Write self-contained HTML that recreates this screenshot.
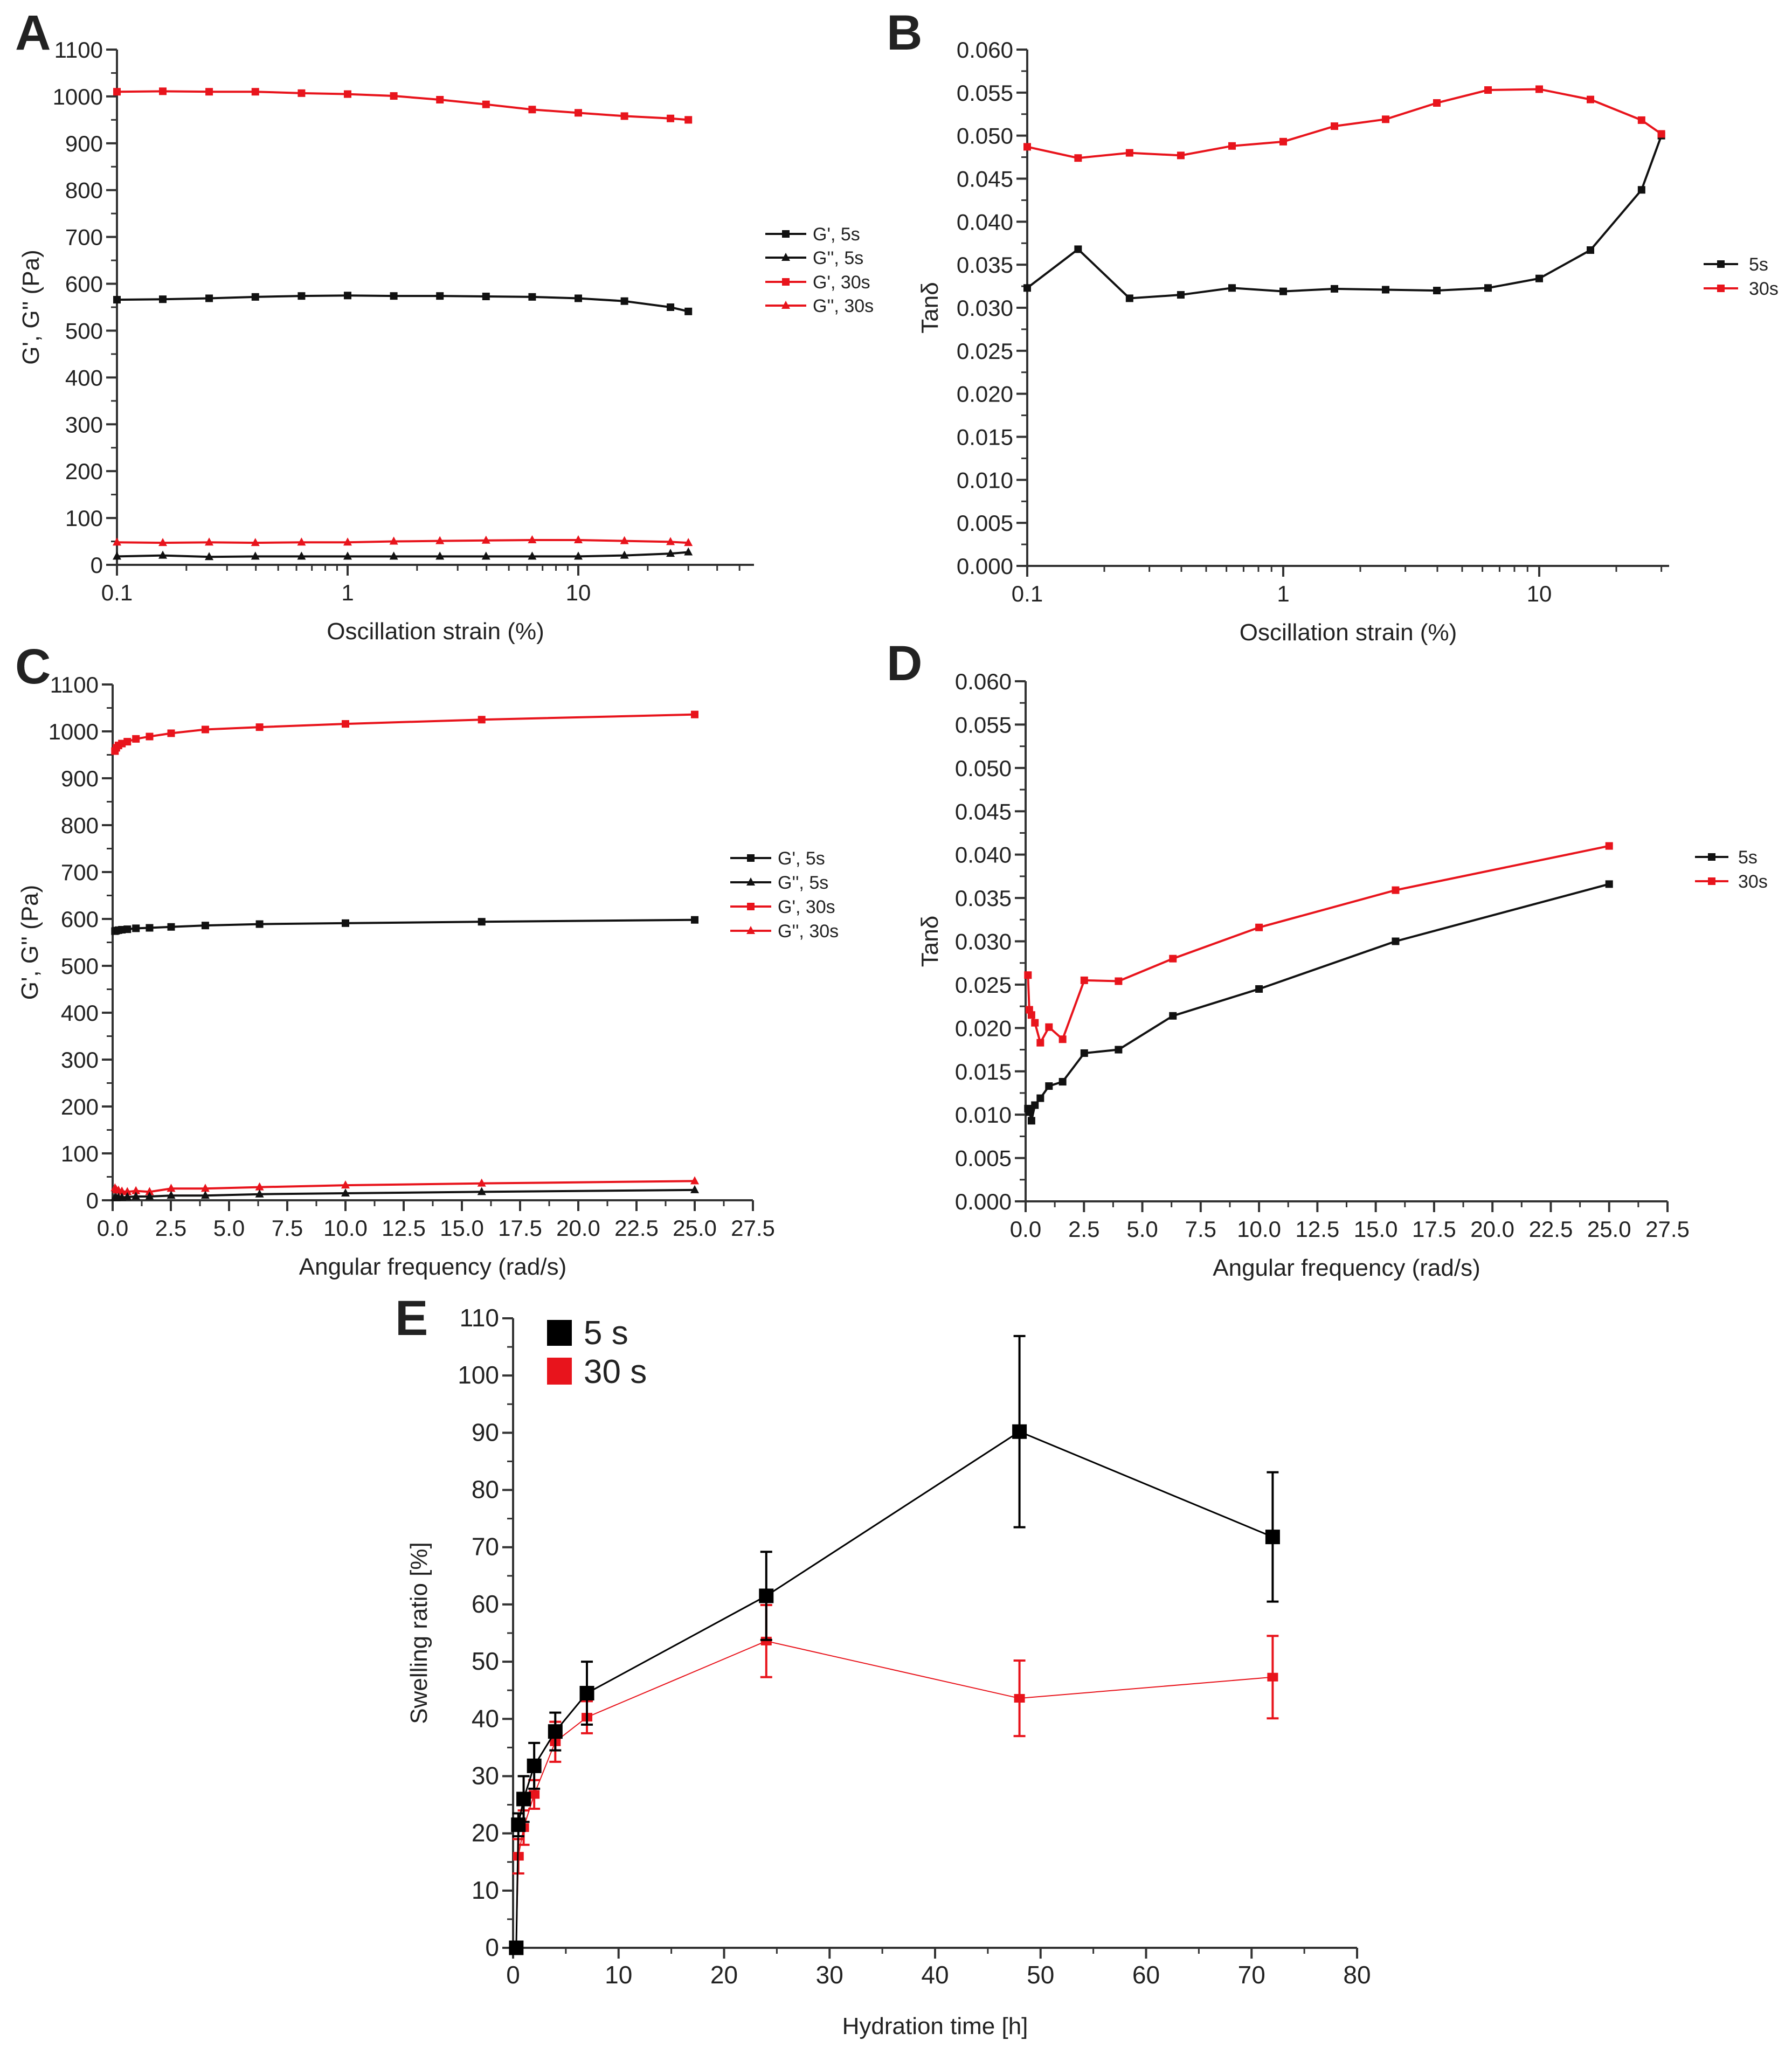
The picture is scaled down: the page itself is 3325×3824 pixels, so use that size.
<!DOCTYPE html>
<html><head><meta charset="utf-8">
<style>
html,body{margin:0;padding:0;background:#fff;}
svg{display:block;}
text{font-family:"Liberation Sans Narrow","Liberation Sans",sans-serif;fill:#222;}
</style></head>
<body>
<svg id="fig" xmlns="http://www.w3.org/2000/svg" width="3325" height="3824" viewBox="0 0 3325 3824"></svg>
<script>
// ---------- data ----------
const strainX = [0.1,0.158,0.251,0.398,0.631,1,1.585,2.512,3.981,6.31,10,15.85,25.1,30];
const aG1_5s  = [566,567,569,572,574,575,574,574,573,572,569,563,550,541];
const aG2_5s  = [18,20,17,18,18,18,18,18,18,18,18,20,24,27];
const aG1_30s = [1010,1011,1010,1010,1007,1005,1001,993,983,972,965,958,953,950];
const aG2_30s = [48,47,48,47,48,48,50,51,52,53,53,51,49,47];
const bTan_5s  = [.0323,.0368,.0311,.0315,.0323,.0319,.0322,.0321,.0320,.0323,.0334,.0367,.0437,.0500];
const bTan_30s = [.0487,.0474,.0480,.0477,.0488,.0493,.0511,.0519,.0538,.0553,.0554,.0542,.0518,.0502];
const freqX = [0.1,0.158,0.251,0.398,0.631,1,1.585,2.512,3.98,6.31,10,15.85,25];
const cG1_5s  = [574,575,576,577,578,580,581,583,586,589,591,594,598];
const cG2_5s  = [6,5,6,6,7,8,8,10,10,13,15,18,22];
const cG1_30s = [958,965,970,974,978,984,989,996,1004,1009,1016,1025,1036];
const cG2_30s = [26,22,21,19,18,20,18,25,25,28,32,36,41];
const dTan_5s  = [.0107,.0103,.0093,.0111,.0119,.0133,.0138,.0171,.0175,.0214,.0245,.0300,.0366];
const dTan_30s = [.0261,.0221,.0215,.0206,.0183,.0201,.0187,.0255,.0254,.0280,.0316,.0359,.0410];
const eTime = [0.3,0.5,1,2,4,7,24,48,72];
const eMean_5s = [0,21.5,26,31.8,37.8,44.5,61.5,90.2,71.8];
const eErr_5s  = [0,2,4,4,3.3,5.5,7.7,16.7,11.3];
const eMean_30s = [0,16,21,26.8,36,40.3,53.6,43.6,47.3];
const eErr_30s  = [0,3,3,2.5,3.5,2.8,6.3,6.6,7.2];
const gTicks = [0,100,200,300,400,500,600,700,800,900,1000,1100];
const tanTicks = [0,.005,.01,.015,.02,.025,.03,.035,.04,.045,.05,.055,.06];
const freqTicks = [0,2.5,5,7.5,10,12.5,15,17.5,20,22.5,25,27.5];
const logTicks = [0.1,1,10];
const eYTicks = [0,10,20,30,40,50,60,70,80,90,100,110];
const eXTicks = [0,10,20,30,40,50,60,70,80];

const NS="http://www.w3.org/2000/svg";
const svg=document.getElementById('fig');
function mk(tag,attrs,parent){const e=document.createElementNS(NS,tag);for(const k in attrs)e.setAttribute(k,attrs[k]);(parent||svg).appendChild(e);return e;}
function txt(s,x,y,size,anchor,parent,extra){const t=mk('text',Object.assign({x:x,y:y,'font-size':size,'text-anchor':anchor||'middle'},extra||{}),parent);t.textContent=s;return t;}
const RED='#e8141c', BLK='#111';

function linScale(d0,d1,p0,p1){return v=>p0+(v-d0)/(d1-d0)*(p1-p0);}
function logScale(d0,decPx,p0){return v=>p0+Math.log10(v/d0)*decPx;}

function panel(cfg){
  const g=mk('g',{});
  
  
  const {x0,x1,y0,y1}=cfg;
  const ax=mk('path',{d:`M${x0} ${y1} L${x0} ${y0} L${x1} ${y0}`,fill:'none',stroke:'#333','stroke-width':4},g);
   
  const yt=cfg.yTicks;
  yt.forEach((v,i)=>{const y=cfg.sy(v);
    mk('line',{x1:x0-20,x2:x0,y1:y,y2:y,stroke:'#333','stroke-width':4},g);
    const t=txt(cfg.yFmt(v),x0-26,y+15,cfg.tickSize||42,'end',g);
     
    if(i<yt.length-1){const ym=cfg.sy((v+yt[i+1])/2);mk('line',{x1:x0-11,x2:x0,y1:ym,y2:ym,stroke:'#333','stroke-width':3},g);}
  });
  if(cfg.log){
    for(let dec=0.1;dec<100;dec*=10){for(let k=1;k<10;k++){const v=dec*k;const x=cfg.sx(v);if(x>x1+1)break;
      const maj=(k===1);mk('line',{x1:x,x2:x,y1:y0,y2:y0+(maj?20:11),stroke:'#333','stroke-width':maj?4:3},g);}}
    cfg.xTicks.forEach(v=>{const t=txt(String(v),cfg.sx(v),y0+66,cfg.tickSize||42,'middle',g);});
  } else {
    const xt=cfg.xTicks;
    xt.forEach((v,i)=>{const x=cfg.sx(v);
      mk('line',{x1:x,x2:x,y1:y0,y2:y0+20,stroke:'#333','stroke-width':4},g);
      const t=txt(cfg.xFmt(v),x,y0+66,cfg.tickSize||42,'middle',g);
       
      if(i<xt.length-1){const xm=cfg.sx((v+xt[i+1])/2);mk('line',{x1:xm,x2:xm,y1:y0,y2:y0+11,stroke:'#333','stroke-width':3},g);}
    });
  }
  const xt=txt(cfg.xTitle,(x0+x1)/2-cfg.xTitleShift,y0+(cfg.xTitleDy||138),44,'middle',g);
   
  const ytt=txt(cfg.yTitle,0,0,44,'middle',g,{transform:`translate(${cfg.yTitleX},${(y0+y1)/2}) rotate(-90)`,'font-family':'Liberation Sans, sans-serif'});
   
  const lt=txt(cfg.letter,cfg.letterX,cfg.letterY,92,'start',g,{'font-weight':'bold','font-family':'Liberation Sans, sans-serif',fill:'#000'});
   
  return g;
}
function series(g,xs,ys,sx,sy,color,marker,name){
  const sg=mk('g',{},g);
  
  
  const pts=xs.map((x,i)=>[sx(x),sy(ys[i])]);
  mk('polyline',{points:pts.map(p=>p.join(',')).join(' '),fill:'none',stroke:color,'stroke-width':4},sg);
  pts.forEach(p=>{
    let m;
    if(marker==='sq') m=mk('rect',{x:p[0]-7,y:p[1]-7,width:14,height:14,fill:color},sg);
    else m=mk('polygon',{points:`${p[0]},${p[1]-9} ${p[0]-8},${p[1]+6} ${p[0]+8},${p[1]+6}`,fill:color},sg);
     
  });
}
function legend(g,items,lx0,lx1,tx,ys){
  const lg=mk('g',{},g);
  
  
  items.forEach((it,i)=>{const y=ys[i];
    const e=mk('g',{},lg);
     
    mk('line',{x1:lx0,x2:lx1,y1:y,y2:y,stroke:it.c,'stroke-width':4},e);
    const cx=(lx0+lx1)/2;
    if(it.m==='sq') mk('rect',{x:cx-7,y:y-7,width:14,height:14,fill:it.c},e);
    else mk('polygon',{points:`${cx},${y-9} ${cx-8},${y+6} ${cx+8},${y+6}`,fill:it.c},e);
    txt(it.t,tx,y+12,34,'start',e);
  });
}
const gFmt=v=>String(v), tanFmt=v=>v.toFixed(3), fFmt=v=>v.toFixed(1);

// Panel A
{const sx=logScale(0.1,428,217), sy=linScale(0,1100,1048,92);
 const g=panel({name:'panel-a-strain-modulus',x0:217,x1:1399,y0:1048,y1:92,sx,sy,log:true,xTicks:logTicks,yTicks:gTicks,yFmt:gFmt,
  xTitle:'Oscillation strain (%)',xTitleShift:0,yTitle:"G', G'' (Pa)",yTitleX:72,letter:'A',letterX:28,letterY:92});
 series(g,strainX,aG1_30s,sx,sy,RED,'sq','series-g1-30s');
 series(g,strainX,aG2_30s,sx,sy,RED,'tri','series-g2-30s');
 series(g,strainX,aG1_5s,sx,sy,BLK,'sq','series-g1-5s');
 series(g,strainX,aG2_5s,sx,sy,BLK,'tri','series-g2-5s');
 legend(g,[{t:"G', 5s",c:BLK,m:'sq'},{t:"G'', 5s",c:BLK,m:'tri'},{t:"G', 30s",c:RED,m:'sq'},{t:"G'', 30s",c:RED,m:'tri'}],1420,1496,1508,[434,478,523,567]);}
// Panel B
{const sx=logScale(0.1,475,1906), sy=linScale(0,0.06,1050,92);
 const g=panel({name:'panel-b-strain-tan',x0:1906,x1:3097,y0:1050,y1:92,sx,sy,log:true,xTicks:logTicks,yTicks:tanTicks,yFmt:tanFmt,
  xTitle:'Oscillation strain (%)',xTitleShift:0,yTitle:'Tanδ',yTitleX:1740,letter:'B',letterX:1645,letterY:92});
 series(g,strainX,bTan_5s,sx,sy,BLK,'sq','series-tan-5s');
 series(g,strainX,bTan_30s,sx,sy,RED,'sq','series-tan-30s');
 legend(g,[{t:'5s',c:BLK,m:'sq'},{t:'30s',c:RED,m:'sq'}],3161,3225,3245,[490,535]);}
// Panel C
{const sx=linScale(0,27.5,209,1397), sy=linScale(0,1100,2227,1270);
 const g=panel({name:'panel-c-frequency-modulus',x0:209,x1:1397,y0:2227,y1:1270,sx,sy,log:false,xTicks:freqTicks,xFmt:fFmt,yTicks:gTicks,yFmt:gFmt,
  xTitle:'Angular frequency (rad/s)',xTitleShift:0,yTitle:"G', G'' (Pa)",yTitleX:70,letter:'C',letterX:28,letterY:1268});
 series(g,freqX,cG1_30s,sx,sy,RED,'sq','series-g1-30s');
 series(g,freqX,cG2_30s,sx,sy,RED,'tri','series-g2-30s');
 series(g,freqX,cG1_5s,sx,sy,BLK,'sq','series-g1-5s');
 series(g,freqX,cG2_5s,sx,sy,BLK,'tri','series-g2-5s');
 legend(g,[{t:"G', 5s",c:BLK,m:'sq'},{t:"G'', 5s",c:BLK,m:'tri'},{t:"G', 30s",c:RED,m:'sq'},{t:"G'', 30s",c:RED,m:'tri'}],1355,1431,1443,[1592,1637,1682,1727]);}
// Panel D
{const sx=linScale(0,27.5,1903,3094), sy=linScale(0,0.06,2229,1264);
 const g=panel({name:'panel-d-frequency-tan',x0:1903,x1:3094,y0:2229,y1:1264,sx,sy,log:false,xTicks:freqTicks,xFmt:fFmt,yTicks:tanTicks,yFmt:tanFmt,
  xTitle:'Angular frequency (rad/s)',xTitleShift:0,yTitle:'Tanδ',yTitleX:1740,letter:'D',letterX:1645,letterY:1262});
 series(g,freqX,dTan_5s,sx,sy,BLK,'sq','series-tan-5s');
 series(g,freqX,dTan_30s,sx,sy,RED,'sq','series-tan-30s');
 legend(g,[{t:'5s',c:BLK,m:'sq'},{t:'30s',c:RED,m:'sq'}],3145,3207,3225,[1590,1635]);}
// Panel E
{const sx=linScale(0,80,952,2518), sy=linScale(0,110,3614,2446);
 const g=panel({name:'panel-e-swelling',x0:952,x1:2518,y0:3614,y1:2446,sx,sy,log:false,xTicks:eXTicks,xFmt:v=>String(v),yTicks:eYTicks,yFmt:v=>String(v),
  tickSize:46,xTitleDy:160,xTitle:'Hydration time [h]',xTitleShift:0,yTitle:'Swelling ratio [%]',yTitleX:792,letter:'E',letterX:733,letterY:2477});
 function eser(ys,es,color,w,h,lw,name){
  const sg=mk('g',{},g);
  
  
  mk('polyline',{points:eTime.map((x,i)=>sx(x)+','+sy(ys[i])).join(' '),fill:'none',stroke:color,'stroke-width':lw},sg);
  eTime.forEach((x,i)=>{const px=sx(x),py=sy(ys[i]);
   if(es[i]>0){const a=sy(ys[i]+es[i]),b=sy(ys[i]-es[i]);
    const eb=mk('path',{d:`M${px} ${a} L${px} ${b} M${px-11} ${a} L${px+11} ${a} M${px-11} ${b} L${px+11} ${b}`,stroke:color,'stroke-width':4,fill:'none'},sg);
     }
   const m=mk('rect',{x:px-w/2,y:py-h/2,width:w,height:h,fill:color},sg);
    
  });
 }
 eser(eMean_30s,eErr_30s,RED,20,16,2,'series-30s');
 eser(eMean_5s,eErr_5s,'#000',27,27,3,'series-5s');
 const lg=mk('g',{},g);
 
 
 mk('rect',{x:1015,y:2449,width:46,height:48,fill:'#000'},lg);
 txt('5 s',1083,2494,62,'start',lg,{'font-family':'Liberation Sans, sans-serif'});
 mk('rect',{x:1015,y:2519,width:46,height:50,fill:RED},lg);
 txt('30 s',1083,2566,62,'start',lg,{'font-family':'Liberation Sans, sans-serif'});}
</script>
</body></html>
